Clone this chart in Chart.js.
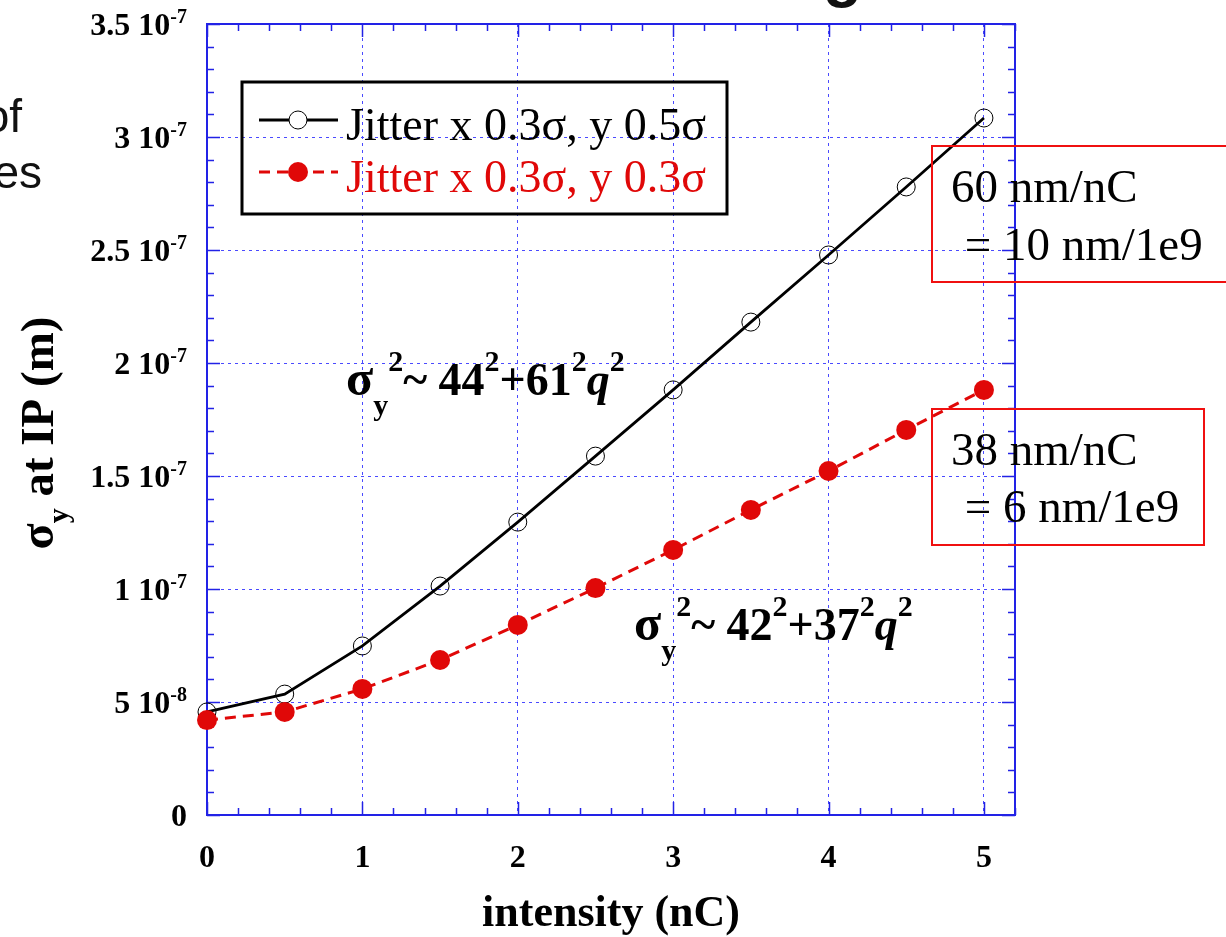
<!DOCTYPE html>
<html>
<head>
<meta charset="utf-8">
<script src="https://cdn.jsdelivr.net/npm/chart.js@4.4.1/dist/chart.umd.min.js"></script>
<style>
  html, body { margin: 0; padding: 0; background: #fff; }
  #wrap { width: 1226px; height: 937px; position: relative; }
</style>
</head>
<body>
<div id="wrap"><canvas id="chart"></canvas></div>
<script>
/* ------------------------------------------------------------------ */
/*  Data                                      */
/* ------------------------------------------------------------------ */

var intensity = [0, 0.5, 1, 1.5, 2, 2.5, 3, 3.5, 4, 4.5, 5];
var sigmaJitterY05 = [4.56e-8, 5.35e-8, 7.48e-8, 1.013e-7, 1.296e-7, 1.588e-7, 1.881e-7, 2.181e-7, 2.478e-7, 2.779e-7, 3.084e-7];
var sigmaJitterY03 = [4.20e-8, 4.56e-8, 5.58e-8, 6.86e-8, 8.41e-8, 1.004e-7, 1.173e-7, 1.350e-7, 1.522e-7, 1.704e-7, 1.881e-7];

var seriesLabels = ["Jitter x 0.3\u03c3, y 0.5\u03c3", "Jitter x 0.3\u03c3, y 0.3\u03c3"];

var xTickValues = [0, 1, 2, 3, 4, 5];
var xTickLabels = ["0", "1", "2", "3", "4", "5"];
var yTickValues = [0, 5e-8, 1e-7, 1.5e-7, 2e-7, 2.5e-7, 3e-7, 3.5e-7];
var yTickLabels = ["0", "5 10^-8", "1 10^-7", "1.5 10^-7", "2 10^-7", "2.5 10^-7", "3 10^-7", "3.5 10^-7"];

var slopeNotes = [
  ["60 nm/nC", " = 10 nm/1e9"],
  ["38 nm/nC", " = 6 nm/1e9"],
];

/* ------------------------------------------------------------------ */
/*  Style                                                              */
/* ------------------------------------------------------------------ */

var SERIF = "'Liberation Serif', 'Times New Roman', serif";
var SANS = "'Liberation Sans', Arial, sans-serif";
var BLUE = "#2222e6";
var GRID = "#4a4aff";
var RED = "#e00808";

function toPoints(xs, ys) {
  return xs.map(function (x, i) { return { x: x, y: ys[i] }; });
}

// draw a run of text pieces: [text, font, dy]
function richWidth(ctx, parts) {
  var w = 0;
  parts.forEach(function (p) { ctx.font = p[1]; w += ctx.measureText(p[0]).width; });
  return w;
}
function drawRich(ctx, parts, x, y) {
  parts.forEach(function (p) {
    ctx.font = p[1];
    ctx.fillText(p[0], x, y + (p[2] || 0));
    x += ctx.measureText(p[0]).width;
  });
  return x;
}

function tickParts(label, size) {
  var bits = label.split("^");
  var parts = [[bits[0], "bold " + size + "px " + SERIF, 0]];
  if (bits[1]) parts.push([bits[1], "bold " + Math.round(size * 0.62) + "px " + SERIF, -12]);
  return parts;
}

/* ------------------------------------------------------------------ */
/*  Frame, inward ticks, labels                                        */
/* ------------------------------------------------------------------ */

var framePlugin = {
  id: "frame",
  beforeDatasetsDraw: function (chart) {
    var ctx = chart.ctx, a = chart.chartArea;
    var xs = chart.scales.x, ys = chart.scales.y;
    ctx.save();
    ctx.strokeStyle = BLUE;
    ctx.lineWidth = 1.5;
    ctx.beginPath();
    // minor + major x ticks (bottom & top)
    for (var i = 0; i <= 26; i++) {
      var px = Math.round(xs.getPixelForValue(i * 0.2)) + 0.5;
      var len = (i % 5 === 0) ? 13 : 7;
      ctx.moveTo(px, a.bottom); ctx.lineTo(px, a.bottom - len);
      ctx.moveTo(px, a.top); ctx.lineTo(px, a.top + len);
    }
    // minor + major y ticks (left & right)
    for (var j = 0; j <= 35; j++) {
      var py = Math.round(ys.getPixelForValue(j * 1e-8)) + 0.5;
      var l2 = (j % 5 === 0) ? 13 : 7;
      ctx.moveTo(a.left, py); ctx.lineTo(a.left + l2, py);
      ctx.moveTo(a.right, py); ctx.lineTo(a.right - l2, py);
    }
    ctx.stroke();
    ctx.lineWidth = 2;
    ctx.strokeRect(a.left, a.top, a.right - a.left, a.bottom - a.top);
    ctx.restore();
  },
  afterDraw: function (chart) {
    var ctx = chart.ctx;
    var xs = chart.scales.x, ys = chart.scales.y;
    ctx.save();
    ctx.fillStyle = "#000";
    ctx.textAlign = "left";
    ctx.textBaseline = "alphabetic";

    // y tick labels, right aligned
    yTickValues.forEach(function (v, i) {
      var parts = tickParts(yTickLabels[i], 32);
      var w = richWidth(ctx, parts);
      drawRich(ctx, parts, 187 - w, ys.getPixelForValue(v) + 11);
    });
    // x tick labels, centred
    xTickValues.forEach(function (v, i) {
      var parts = tickParts(xTickLabels[i], 32);
      var w = richWidth(ctx, parts);
      drawRich(ctx, parts, xs.getPixelForValue(v) - w / 2, 867);
    });

    // x title
    var xt = [["intensity (nC)", "bold 44px " + SERIF, 0]];
    drawRich(ctx, xt, (chart.chartArea.left + chart.chartArea.right) / 2 - richWidth(ctx, xt) / 2, 926);

    // y title (rotated)
    var yt = [["\u03c3", "bold 48px " + SERIF, 0], ["y", "bold 30px " + SERIF, 15], [" at IP (m)", "bold 47px " + SERIF, 0]];
    ctx.save();
    ctx.translate(53, 433);
    ctx.rotate(-Math.PI / 2);
    drawRich(ctx, yt, -richWidth(ctx, yt) / 2, 0);
    ctx.restore();

    // fit formulas
    var B = "bold 46px " + SERIF, S = "bold 30px " + SERIF, Q = "italic bold 46px " + SERIF;
    var G = "bold 50px " + SERIF;
    drawRich(ctx, [["\u03c3", G, 0], ["y", S, 20], ["2", S, -24], ["~ 44", B, 0], ["2", S, -24],
                   ["+61", B, 0], ["2", S, -24], ["q", Q, 0], ["2", S, -24]], 346, 395);
    drawRich(ctx, [["\u03c3", G, 0], ["y", S, 20], ["2", S, -24], ["~ 42", B, 0], ["2", S, -24],
                   ["+37", B, 0], ["2", S, -24], ["q", Q, 0], ["2", S, -24]], 634, 640);

    // legend box
    ctx.lineWidth = 3;
    ctx.strokeStyle = "#000";
    ctx.strokeRect(242, 82, 485, 132);
    var ds = chart.data.datasets;
    var rows = [{ d: ds[1], ly: 120, ty: 140 }, { d: ds[0], ly: 172, ty: 192 }];
    rows.forEach(function (r) {
      ctx.save();
      ctx.strokeStyle = r.d.borderColor;
      ctx.lineWidth = r.d.borderWidth;
      ctx.setLineDash(r.d.borderDash || []);
      ctx.beginPath(); ctx.moveTo(259, r.ly); ctx.lineTo(338, r.ly); ctx.stroke();
      ctx.setLineDash([]);
      ctx.beginPath(); ctx.arc(298, r.ly, r.d.pointRadius, 0, Math.PI * 2);
      if (r.d.pointBorderWidth > 0) {
        ctx.fillStyle = "#fff"; ctx.fill();
        ctx.lineWidth = r.d.pointBorderWidth; ctx.strokeStyle = r.d.pointBorderColor; ctx.stroke();
      } else {
        ctx.fillStyle = r.d.pointBackgroundColor; ctx.fill();
      }
      ctx.restore();
      ctx.fillStyle = r.d.borderColor;
      ctx.font = "46px " + SERIF;
      ctx.fillText(r.d.label, 346, r.ty);
    });

    // slope annotations (red boxes)
    ctx.lineWidth = 2;
    ctx.strokeStyle = "#f01010";
    ctx.strokeRect(932, 146, 320, 136);
    ctx.strokeRect(932, 409, 272, 136);
    ctx.fillStyle = "#000";
    ctx.font = "47px " + SERIF;
    ctx.fillText(slopeNotes[0][0], 951, 202);
    ctx.fillText(slopeNotes[0][1], 953, 260);
    ctx.fillText(slopeNotes[1][0], 951, 465);
    ctx.fillText(slopeNotes[1][1], 953, 522);

    // remnants of the slide text around the plot
    ctx.fillStyle = "#111";
    ctx.font = "46px " + SANS;
    ctx.textAlign = "right";
    ctx.fillText("of", 22, 132);
    ctx.fillText("es", 42, 188);
    ctx.textAlign = "left";
    ctx.font = "bold 64px " + SANS;
    ctx.fillText("g", 823, -5);
    ctx.restore();
  },
};

/* ------------------------------------------------------------------ */
/*  Chart                                                              */
/* ------------------------------------------------------------------ */

new Chart(document.getElementById("chart"), {
  type: "scatter",
  data: {
    datasets: [
      {
        label: seriesLabels[1],
        data: toPoints(intensity, sigmaJitterY03),
        showLine: true,
        borderColor: RED,
        borderWidth: 3,
        borderDash: [11, 7],
        pointRadius: 10,
        pointHoverRadius: 10,
        pointBackgroundColor: RED,
        pointBorderColor: RED,
        pointBorderWidth: 0,
        clip: false,
        order: 0,
      },
      {
        label: seriesLabels[0],
        data: toPoints(intensity, sigmaJitterY05),
        showLine: true,
        borderColor: "#000",
        borderWidth: 2.8,
        pointRadius: 9,
        pointHoverRadius: 9,
        pointBackgroundColor: "rgba(0,0,0,0)",
        pointBorderColor: "#000",
        pointBorderWidth: 1,
        clip: false,
        order: 1,
      },
    ],
  },
  options: {
    responsive: true,
    maintainAspectRatio: false,
    animation: false,
    events: [],
    layout: { padding: { top: 24, right: 211, bottom: 0, left: 0 } },
    plugins: { legend: { display: false }, tooltip: { enabled: false } },
    scales: {
      x: {
        type: "linear",
        min: 0,
        max: 5.2,
        afterBuildTicks: function (s) { s.ticks = xTickValues.map(function (v) { return { value: v }; }); },
        afterFit: function (s) { s.height = 122; },
        ticks: { display: false },
        grid: { color: GRID, lineWidth: 1, drawTicks: false },
        border: { display: false, dash: [3, 4] },
      },
      y: {
        type: "linear",
        min: 0,
        max: 3.5e-7,
        afterBuildTicks: function (s) { s.ticks = yTickValues.map(function (v) { return { value: v }; }); },
        afterFit: function (s) { s.width = 207; },
        ticks: { display: false },
        grid: { color: GRID, lineWidth: 1, drawTicks: false },
        border: { display: false, dash: [3, 4] },
      },
    },
  },
  plugins: [framePlugin],
});
</script>
</body>
</html>
